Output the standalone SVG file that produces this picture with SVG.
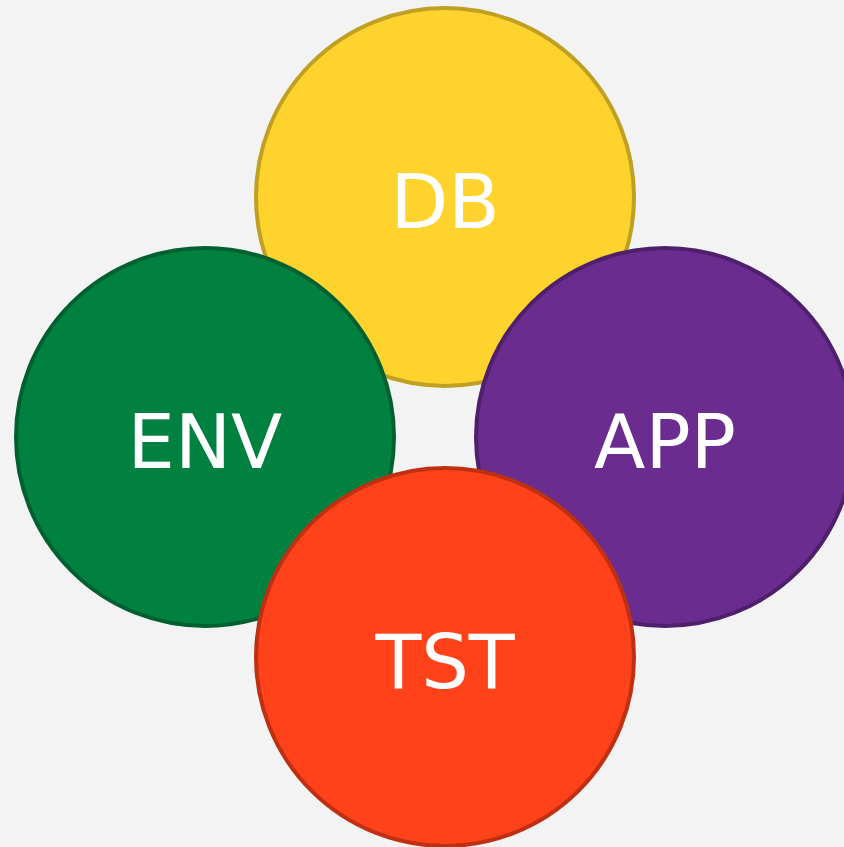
<svg xmlns="http://www.w3.org/2000/svg" width="844" height="847" viewBox="0 0 844 847">
<style>
.c{stroke-width:4}
.t{font-family:"DejaVu Sans",sans-serif;font-size:75px;fill:#ffffff;text-anchor:middle}
</style>
<rect width="844" height="847" fill="#f3f3f3"/>
<g id="db"><circle class="c" cx="445" cy="197" r="189" fill="#ffd32e" stroke="#bfa022"/><text class="t" x="445" y="228">DB</text></g>
<g id="env"><circle class="c" cx="205" cy="437" r="189" fill="#008140" stroke="#006030"/><text class="t" x="205" y="468">ENV</text></g>
<g id="app"><circle class="c" cx="665" cy="437" r="189" fill="#6a2d8f" stroke="#4e206b"/><text class="t" x="665" y="468">APP</text></g>
<g id="tst"><circle class="c" cx="445" cy="657" r="189" fill="#ff4219" stroke="#bf3012"/><text class="t" x="445" y="688">TST</text></g>
<g id="connectors"/>
</svg>
